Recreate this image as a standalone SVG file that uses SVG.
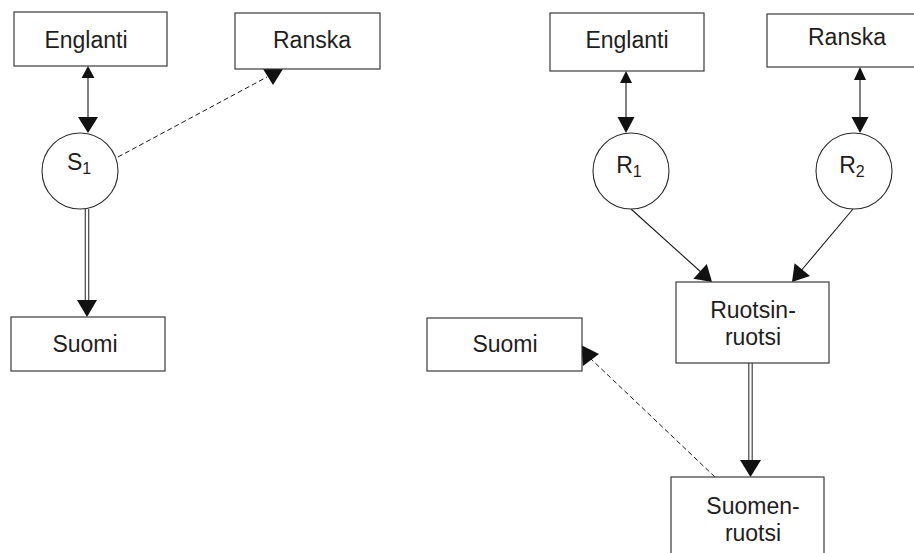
<svg xmlns="http://www.w3.org/2000/svg" width="914" height="553" viewBox="0 0 914 553">
<style>
  .box { fill: #fff; stroke: #3a3a3a; stroke-width: 1.2; }
  .circ { fill: #fff; stroke: #2a2a2a; stroke-width: 1.1; }
  .lbl { font-family: "Liberation Sans", Arial, sans-serif; font-size: 23px; fill: #1e1e1e; text-anchor: middle; }
  .sub { font-size: 16px; }
  .ln { stroke: #1a1a1a; stroke-width: 1.1; fill: none; }
  .dash { stroke: #1a1a1a; stroke-width: 1; fill: none; stroke-dasharray: 5 3; }
  .dbl { stroke: #444; stroke-width: 1.2; fill: none; }
  .head { fill: #111; stroke: none; }
</style>
<rect width="914" height="553" fill="#fff"/>

<g id="connectors">
  <!-- left: Englanti <-> S1 -->
  <line class="ln" x1="88" y1="76" x2="88" y2="120"/>
  <polygon class="head" points="88,66 81.5,78 94.5,78"/>
  <polygon class="head" points="88,133 78,117 98,117"/>
  <!-- left: S1 - - > Ranska -->
  <line class="dash" x1="118" y1="157" x2="267" y2="77"/>
  <polygon class="head" points="263,69 283,69 273,85"/>
  <!-- left: S1 => Suomi -->
  <line class="dbl" x1="85.3" y1="209" x2="85.3" y2="302"/>
  <line class="dbl" x1="88.7" y1="209" x2="88.7" y2="302"/>
  <polygon class="head" points="87,317 77,300 97,300"/>

  <!-- right: Englanti <-> R1 -->
  <line class="ln" x1="626" y1="80" x2="626" y2="120"/>
  <polygon class="head" points="626,71 620,83 632,83"/>
  <polygon class="head" points="626,133 617.5,117 634.5,117"/>
  <!-- right: Ranska <-> R2 -->
  <line class="ln" x1="860" y1="76" x2="860" y2="120"/>
  <polygon class="head" points="860,67 854,80 866,80"/>
  <polygon class="head" points="860,133 851.5,117 868.5,117"/>
  <!-- R1 -> Ruotsinruotsi -->
  <line class="ln" x1="631" y1="209" x2="702" y2="273"/>
  <polygon class="head" points="712,282 693.4,278.7 706.8,263.9"/>
  <!-- R2 -> Ruotsinruotsi -->
  <line class="ln" x1="853" y1="209" x2="800" y2="272"/>
  <polygon class="head" points="792,282 810,276.1 794.6,263.3"/>
  <!-- Ruotsinruotsi => Suomenruotsi -->
  <line class="dbl" x1="748.8" y1="363" x2="748.8" y2="462"/>
  <line class="dbl" x1="752.2" y1="363" x2="752.2" y2="462"/>
  <polygon class="head" points="750.5,477 740,460 761,460"/>
  <!-- Suomenruotsi - - > Suomi -->
  <line class="dash" x1="715" y1="477" x2="591" y2="359"/>
  <polygon class="head" points="581,345 599,354 583,366"/>
</g>

<g id="englanti-left">
  <rect class="box" x="14" y="12" width="153" height="54"/>
  <text class="lbl" x="86" y="48">Englanti</text>
</g>
<g id="ranska-left">
  <rect class="box" x="235" y="13" width="145" height="56"/>
  <text class="lbl" x="312" y="48">Ranska</text>
</g>
<g id="s1">
  <circle class="circ" cx="80" cy="171" r="38"/>
  <text class="lbl" x="79" y="170">S<tspan class="sub" dy="4">1</tspan></text>
</g>
<g id="suomi-left">
  <rect class="box" x="11" y="317" width="154" height="54"/>
  <text class="lbl" x="85" y="352">Suomi</text>
</g>

<g id="englanti-right">
  <rect class="box" x="550" y="13" width="154" height="58"/>
  <text class="lbl" x="627" y="48">Englanti</text>
</g>
<g id="ranska-right">
  <rect class="box" x="767" y="14" width="160" height="53"/>
  <text class="lbl" x="847" y="45">Ranska</text>
</g>
<g id="r1">
  <circle class="circ" cx="631" cy="171" r="38"/>
  <text class="lbl" x="629" y="173">R<tspan class="sub" dy="4">1</tspan></text>
</g>
<g id="r2">
  <circle class="circ" cx="854" cy="171" r="38"/>
  <text class="lbl" x="852" y="173">R<tspan class="sub" dy="4">2</tspan></text>
</g>
<g id="ruotsinruotsi">
  <rect class="box" x="676" y="282" width="153" height="81"/>
  <text class="lbl" x="753" y="318">Ruotsin-</text>
  <text class="lbl" x="753" y="345">ruotsi</text>
</g>
<g id="suomi-right">
  <rect class="box" x="427" y="318" width="155" height="53"/>
  <text class="lbl" x="505" y="352">Suomi</text>
</g>
<g id="suomenruotsi">
  <rect class="box" x="671" y="477" width="153" height="90"/>
  <text class="lbl" x="753" y="514">Suomen-</text>
  <text class="lbl" x="753" y="541">ruotsi</text>
</g>
</svg>
